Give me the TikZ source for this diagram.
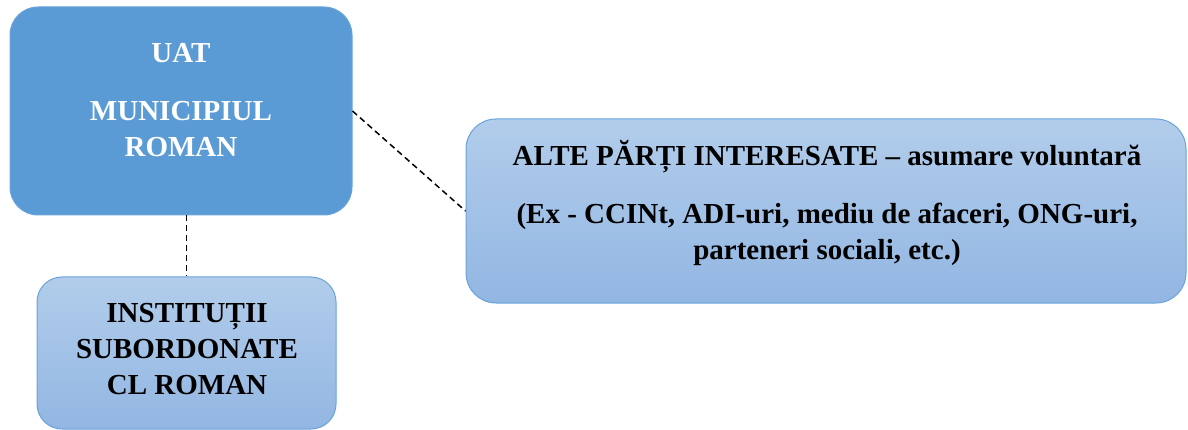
\documentclass[tikz,border=0pt]{standalone}
\usepackage{fontspec}
\setmainfont{Liberation Serif}[BoldFont={Liberation Serif Bold}]
\definecolor{uatblue}{HTML}{5B9BD5}
\definecolor{boxedge}{HTML}{6AA3DA}
\definecolor{paletop}{HTML}{B2CDEB}
\definecolor{palebottom}{HTML}{92B6E2}
\begin{document}
\begin{tikzpicture}[x=1pt,y=-1pt,
	box/.style={rounded corners=28pt, draw=boxedge, line width=1pt},
	darkbox/.style={box, fill=uatblue},
	palebox/.style={box, top color=paletop, bottom color=palebottom},
	txt/.style={font=\bfseries\fontsize{29}{36}\selectfont, align=center, inner sep=0pt},
	link/.style={line width=1.5pt, dash pattern=on 6pt off 4pt}]

	\useasboundingbox (0,0) rectangle (1188,430);

	% boxes
	\node[darkbox, minimum width=342pt, minimum height=208pt] (uat) at (181,111) {};
	\node[palebox, minimum width=299pt, minimum height=152pt, rounded corners=25pt] (inst) at (186.5,353) {};
	\node[palebox, minimum width=720pt, minimum height=184pt, rounded corners=30pt] (alte) at (826,211) {};

	% texts
	\node[txt, text=white] (uattxt) at (181,100) {UAT\\[22pt]MUNICIPIUL\\ROMAN};
	\node[txt] (insttxt) at (187,349.5) {INSTITUȚII\\SUBORDONATE\\CL ROMAN};
	\node[txt] (altetxt) at (827,203.5) {ALTE PĂRȚI INTERESATE – asumare voluntară\\[22pt](Ex - CCINt, ADI-uri, mediu de afaceri, ONG-uri,\\parteneri sociali, etc.)};

	% dashed links
	\draw[link] (uat.east) -- (alte.west);
	\draw[link] (inst.north |- uat.south) -- (inst.north);
\end{tikzpicture}
\end{document}
